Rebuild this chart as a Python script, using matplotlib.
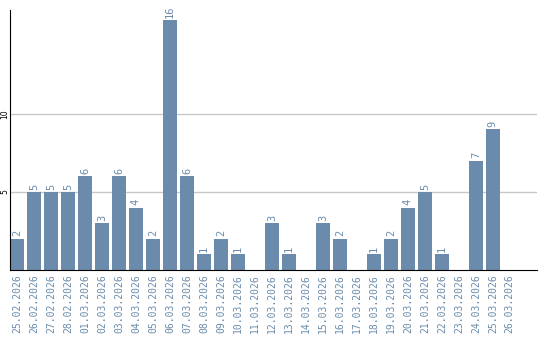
import matplotlib
matplotlib.use("Agg")
import matplotlib.pyplot as plt

dates = ["25.02.2026", "26.02.2026", "27.02.2026", "28.02.2026",
         "01.03.2026", "02.03.2026", "03.03.2026", "04.03.2026", "05.03.2026",
         "06.03.2026", "07.03.2026", "08.03.2026", "09.03.2026", "10.03.2026",
         "11.03.2026", "12.03.2026", "13.03.2026", "14.03.2026", "15.03.2026",
         "16.03.2026", "17.03.2026", "18.03.2026", "19.03.2026", "20.03.2026",
         "21.03.2026", "22.03.2026", "23.03.2026", "24.03.2026", "25.03.2026",
         "26.03.2026"]
counts = [2, 5, 5, 5, 6, 3, 6, 4, 2, 16, 6, 1, 2, 1, 0, 3, 1, 0, 3, 2,
          0, 1, 2, 4, 5, 1, 0, 7, 9, 0]

bar_color = "#6a8bab"

fig = plt.figure(figsize=(5.4, 3.4), dpi=100)
ax = fig.add_axes([10 / 540, 70 / 340, 527 / 540, 260 / 340])

x = list(range(len(dates)))
ax.bar(x, counts, width=0.82, color=bar_color, zorder=2)

# value labels above bars
for i, v in enumerate(counts):
    if v > 0:
        ax.text(i, v + 0.15, str(v), rotation=90, ha="center", va="bottom",
                color=bar_color, fontsize=7.5, family="DejaVu Sans Mono")

ax.set_xlim(-0.41, 30.6)
ax.set_ylim(0, 16.65)
ax.set_yticks([5, 10])
ax.set_yticklabels(["5", "10"], rotation=90, va="center", fontsize=5.5)
ax.set_xticks(x)
ax.set_xticklabels(dates, rotation=90, fontsize=7, color=bar_color,
                   family="DejaVu Sans Mono")
ax.tick_params(axis="x", length=0, pad=3)
ax.tick_params(axis="y", length=0, pad=0.5)
ax.grid(axis="y", color="#c8c8c8", linewidth=1, zorder=0)

for s in ["top", "right"]:
    ax.spines[s].set_visible(False)
ax.spines["left"].set_color("black")
ax.spines["bottom"].set_color("black")

plt.savefig("out.png", dpi=100)
